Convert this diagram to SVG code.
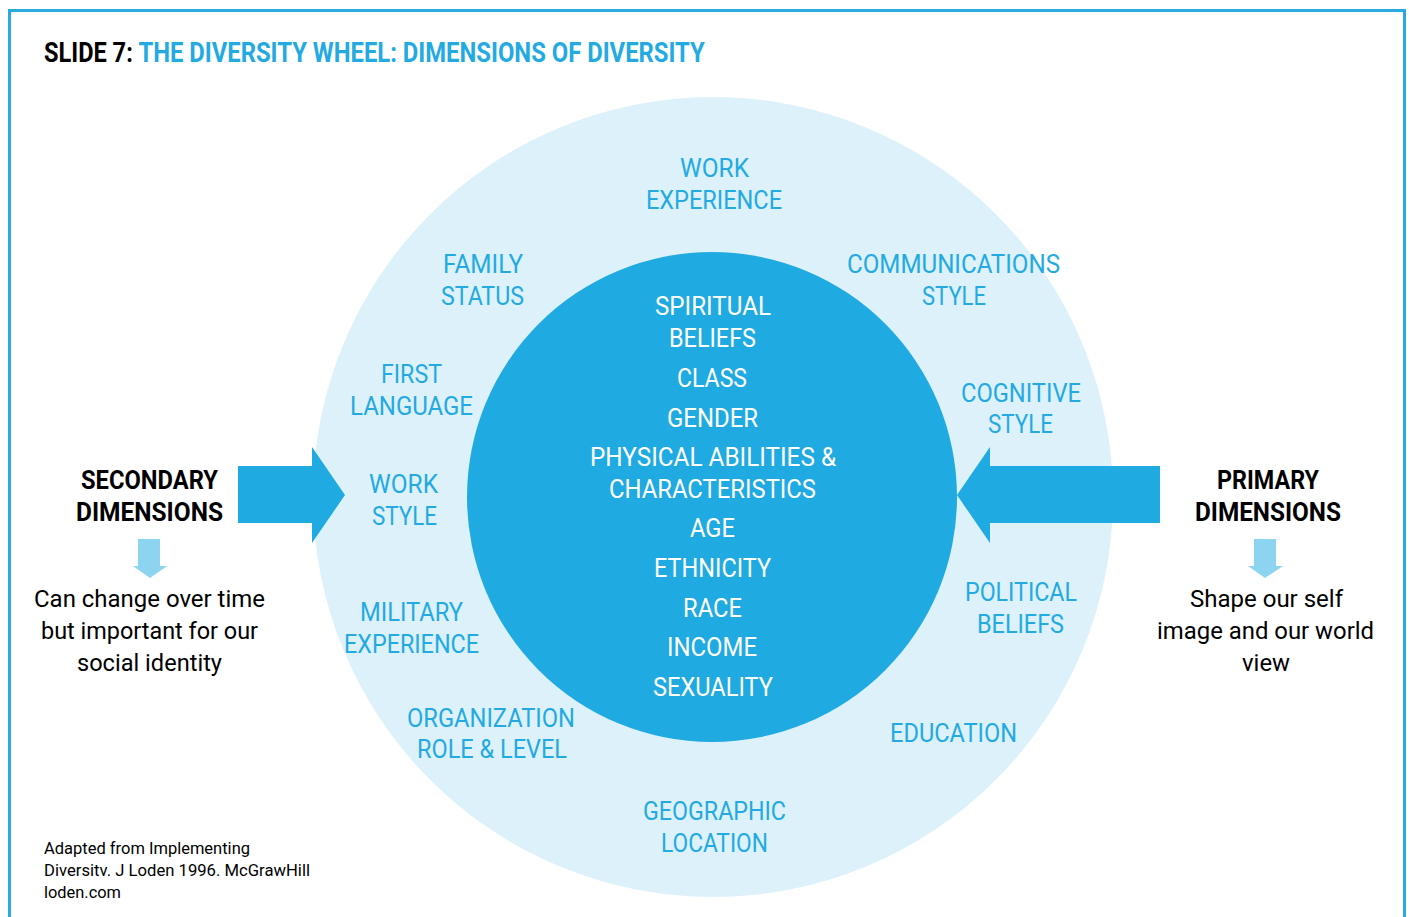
<svg xmlns="http://www.w3.org/2000/svg" width="1409" height="917" viewBox="0 0 1409 917">
<style>
.o{font-family:Roboto,"Liberation Sans",sans-serif;font-size:25px;fill:#23aae2}
.i{font-family:Roboto,"Liberation Sans",sans-serif;font-size:25px;fill:#ffffff}
.h{font-family:Roboto,"Liberation Sans",sans-serif;font-size:25px;font-weight:bold;fill:#000}
.b{font-family:Roboto,"Liberation Sans",sans-serif;font-size:24px;fill:#000}
.f{font-family:Roboto,"Liberation Sans",sans-serif;font-size:17px;fill:#000}
.t{font-family:Roboto,"Liberation Sans",sans-serif;font-size:28px;font-weight:bold}
.big{fill:#1faae2}
.small{fill:#8dd4f1}
</style>
<rect x="0" y="0" width="1409" height="917" fill="#fff"/>
<rect x="9.5" y="10.5" width="1395" height="930" fill="none" stroke="#29abe2" stroke-width="3"/>
<g id="title" transform="scale(0.8 1)">
<text class="t" x="55" y="62" fill="#000" textLength="111" lengthAdjust="spacingAndGlyphs">SLIDE 7:</text>
<text class="t" x="173" y="62" fill="#23aae2" textLength="708" lengthAdjust="spacingAndGlyphs">THE DIVERSITY WHEEL: DIMENSIONS OF DIVERSITY</text>
</g>
<g id="outer-wheel">
<circle cx="713" cy="497" r="400" fill="#dcf1fa"/>
<text class="o" x="680" y="177" textLength="69" lengthAdjust="spacingAndGlyphs">WORK</text>
<text class="o" x="646" y="209" textLength="136" lengthAdjust="spacingAndGlyphs">EXPERIENCE</text>
<text class="o" x="443" y="273" textLength="80" lengthAdjust="spacingAndGlyphs">FAMILY</text>
<text class="o" x="441" y="305" textLength="83" lengthAdjust="spacingAndGlyphs">STATUS</text>
<text class="o" x="847" y="273" textLength="213" lengthAdjust="spacingAndGlyphs">COMMUNICATIONS</text>
<text class="o" x="922" y="305" textLength="64" lengthAdjust="spacingAndGlyphs">STYLE</text>
<text class="o" x="381" y="383" textLength="61" lengthAdjust="spacingAndGlyphs">FIRST</text>
<text class="o" x="350" y="415" textLength="123" lengthAdjust="spacingAndGlyphs">LANGUAGE</text>
<text class="o" x="961" y="402" textLength="120" lengthAdjust="spacingAndGlyphs">COGNITIVE</text>
<text class="o" x="988" y="433" textLength="65" lengthAdjust="spacingAndGlyphs">STYLE</text>
<text class="o" x="369" y="493" textLength="69" lengthAdjust="spacingAndGlyphs">WORK</text>
<text class="o" x="372" y="525" textLength="65" lengthAdjust="spacingAndGlyphs">STYLE</text>
<text class="o" x="360" y="621" textLength="103" lengthAdjust="spacingAndGlyphs">MILITARY</text>
<text class="o" x="344" y="653" textLength="135" lengthAdjust="spacingAndGlyphs">EXPERIENCE</text>
<text class="o" x="965" y="601" textLength="112" lengthAdjust="spacingAndGlyphs">POLITICAL</text>
<text class="o" x="977" y="633" textLength="87" lengthAdjust="spacingAndGlyphs">BELIEFS</text>
<text class="o" x="407" y="727" textLength="168" lengthAdjust="spacingAndGlyphs">ORGANIZATION</text>
<text class="o" x="417" y="758" textLength="150" lengthAdjust="spacingAndGlyphs">ROLE &amp; LEVEL</text>
<text class="o" x="890" y="742" textLength="127" lengthAdjust="spacingAndGlyphs">EDUCATION</text>
<text class="o" x="643" y="820" textLength="143" lengthAdjust="spacingAndGlyphs">GEOGRAPHIC</text>
<text class="o" x="661" y="852" textLength="107" lengthAdjust="spacingAndGlyphs">LOCATION</text>
</g>
<g id="inner-wheel">
<circle cx="712" cy="497" r="245" fill="#1faae2"/>
<text class="i" x="655" y="315" textLength="116" lengthAdjust="spacingAndGlyphs">SPIRITUAL</text>
<text class="i" x="669" y="347" textLength="87" lengthAdjust="spacingAndGlyphs">BELIEFS</text>
<text class="i" x="677" y="387" textLength="70" lengthAdjust="spacingAndGlyphs">CLASS</text>
<text class="i" x="667" y="427" textLength="91" lengthAdjust="spacingAndGlyphs">GENDER</text>
<text class="i" x="590" y="466" textLength="246" lengthAdjust="spacingAndGlyphs">PHYSICAL ABILITIES &amp;</text>
<text class="i" x="609" y="498" textLength="207" lengthAdjust="spacingAndGlyphs">CHARACTERISTICS</text>
<text class="i" x="690" y="537" textLength="45" lengthAdjust="spacingAndGlyphs">AGE</text>
<text class="i" x="654" y="577" textLength="117" lengthAdjust="spacingAndGlyphs">ETHNICITY</text>
<text class="i" x="683" y="617" textLength="59" lengthAdjust="spacingAndGlyphs">RACE</text>
<text class="i" x="667" y="656" textLength="90" lengthAdjust="spacingAndGlyphs">INCOME</text>
<text class="i" x="653" y="696" textLength="120" lengthAdjust="spacingAndGlyphs">SEXUALITY</text>
</g>
<g id="connectors">
<polygon class="big" points="238,466 312,466 312,447 345,495 312,543 312,523 238,523"/>
<polygon class="big" points="1160,466 990,466 990,447 957,495 990,543 990,523 1160,523"/>
<polygon class="small" points="138,539 160,539 160,566 167,566 150,578 133,566 138,566"/>
<polygon class="small" points="1254,539 1276,539 1276,566 1283,566 1265,578 1248,566 1254,566"/>
</g>
<g id="secondary">
<text class="h" x="81" y="489" textLength="137" lengthAdjust="spacingAndGlyphs">SECONDARY</text>
<text class="h" x="76" y="521" textLength="147" lengthAdjust="spacingAndGlyphs">DIMENSIONS</text>
<text class="b" x="34" y="607" textLength="231" lengthAdjust="spacingAndGlyphs">Can change over time</text>
<text class="b" x="41" y="639" textLength="217" lengthAdjust="spacingAndGlyphs">but important for our</text>
<text class="b" x="77" y="671" textLength="145" lengthAdjust="spacingAndGlyphs">social identity</text>
</g>
<g id="primary">
<text class="h" x="1217" y="489" textLength="102" lengthAdjust="spacingAndGlyphs">PRIMARY</text>
<text class="h" x="1195" y="521" textLength="146" lengthAdjust="spacingAndGlyphs">DIMENSIONS</text>
<text class="b" x="1190" y="607" textLength="153" lengthAdjust="spacingAndGlyphs">Shape our self</text>
<text class="b" x="1157" y="639" textLength="217" lengthAdjust="spacingAndGlyphs">image and our world</text>
<text class="b" x="1242" y="671" textLength="48" lengthAdjust="spacingAndGlyphs">view</text>
</g>
<g id="footnote">
<text class="f" x="44" y="854" textLength="206" lengthAdjust="spacingAndGlyphs">Adapted from Implementing</text>
<text class="f" x="44" y="876" textLength="266" lengthAdjust="spacingAndGlyphs">Diversitv. J Loden 1996. McGrawHill</text>
<text class="f" x="44" y="898" textLength="77" lengthAdjust="spacingAndGlyphs">loden.com</text>
</g>
</svg>
